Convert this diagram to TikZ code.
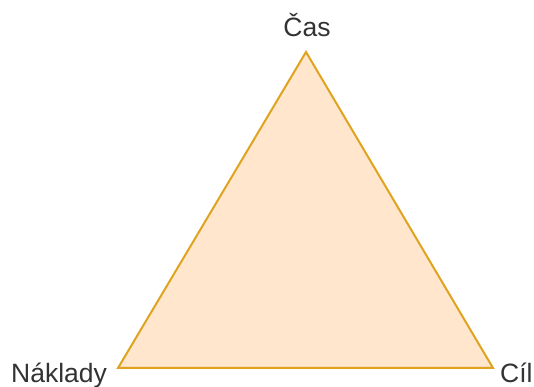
\documentclass[tikz,border=0pt]{standalone}
\usepackage{fontspec}
\setmainfont{Liberation Sans}
\definecolor{trifill}{HTML}{FFE6CC}
\definecolor{tristroke}{HTML}{DFA31F}
\definecolor{txt}{HTML}{333333}
\begin{document}
\begin{tikzpicture}[x=1pt,y=1pt,
  lbl/.style={inner sep=0pt,text=txt,font=\fontsize{26.5}{26.5}\selectfont}]
\useasboundingbox (0,0) rectangle (534,387);
\coordinate (top) at (306,335);
\coordinate (bl) at (118,19);
\coordinate (br) at (493,19);
\draw[fill=trifill,draw=tristroke,line width=2pt,line join=miter] (top) -- (br) -- (bl) -- cycle;
\node[lbl,anchor=base] (cas) at (307,350) {Čas};
\node[lbl,anchor=base west] (naklady) at (11,4) {Náklady};
\node[lbl,anchor=base west] (cil) at (500,4) {Cíl};
\end{tikzpicture}
\end{document}
